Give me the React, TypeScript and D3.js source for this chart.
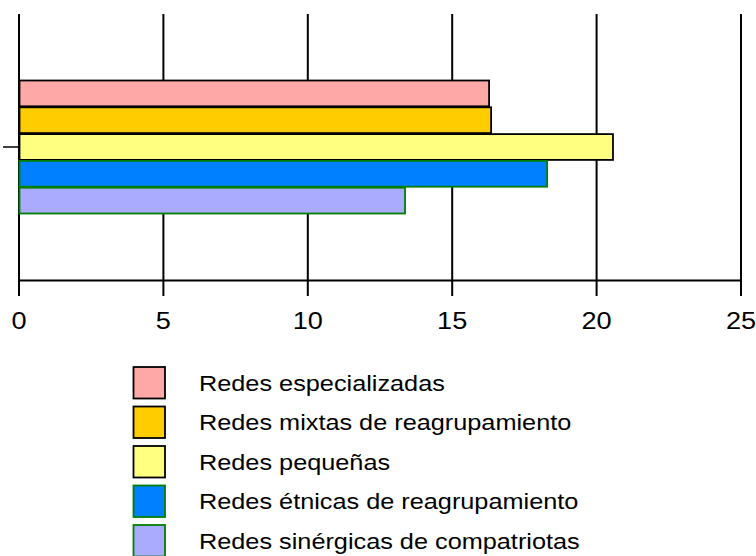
import React from "react";
import * as d3 from "d3";

const categories = ["Redes especializadas", "Redes mixtas de reagrupamiento", "Redes pequeñas", "Redes étnicas de reagrupamiento", "Redes sinérgicas de compatriotas"];
const values = [16.26, 16.33, 20.55, 18.27, 13.35];
const fills = ["#ffa8a8", "#ffcc00", "#ffff80", "#0080ff", "#aaaaff"];
const strokes = ["#000000", "#000000", "#000000", "#008000", "#008000"];
const xTicks = [0, 5, 10, 15, 20, 25];

export default function App() {
  const W = 756, H = 556;
  const left = 19, right = 741, top = 14, bottom = 280.5;
  const x = d3.scaleLinear().domain([0, 25]).range([left, right]);
  const y = d3.scaleBand<string>().domain(categories).range([80, 214]).padding(0);
  const font = "'Liberation Sans', Arial, sans-serif";
  const legendY = d3.scaleLinear().domain([0, 4]).range([367, 525]);
  return (
    <svg width={W} height={H} style={{ position: "absolute", left: 0, top: 0 }}>
      <rect width={W} height={H} fill="#fff" />
      {xTicks.slice(1).map(t => (
        <line key={"g" + t} x1={x(t)} x2={x(t)} y1={top} y2={296} stroke="#000" strokeWidth={2} />
      ))}
      <line x1={left} x2={left} y1={top} y2={296} stroke="#000" strokeWidth={2} />
      <line x1={left} x2={right} y1={bottom} y2={bottom} stroke="#000" strokeWidth={2} />
      <line x1={3} x2={left} y1={147} y2={147} stroke="#000" strokeWidth={1.5} />
      {categories.map((c, i) => (
        <rect key={c} x={x(0) + 0.5} y={y(c)! + 0.5} width={x(values[i]) - x(0)} height={y.bandwidth() - 1}
          fill={fills[i]} stroke={strokes[i]} strokeWidth={1.8} />
      ))}
      {xTicks.map(t => (
        <text key={"t" + t} transform={`translate(${x(t)},329) scale(1.18,1)`} textAnchor="middle" fontFamily={font} fontSize={23} fill="#000">{t}</text>
      ))}
      {categories.map((c, i) => (
        <g key={"l" + c}>
          <rect x={133.5} y={legendY(i)} width={31.5} height={31.5} fill={fills[i]} stroke={strokes[i]} strokeWidth={1.8} />
          <text transform={`translate(199,${legendY(i) + 23.5}) scale(1.16,1)`} fontFamily={font} fontSize={21.8} fill="#000">{c}</text>
        </g>
      ))}
    </svg>
  );
}
